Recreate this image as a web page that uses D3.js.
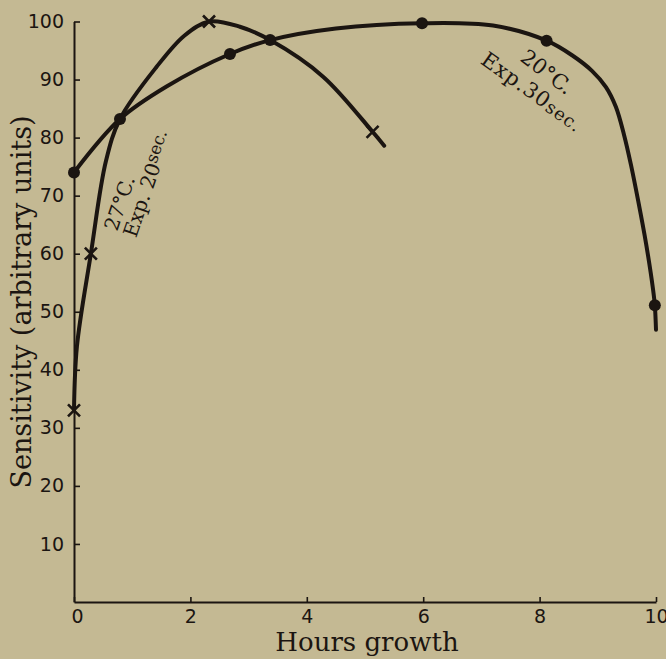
<!DOCTYPE html>
<html lang="en">
<head>
<meta charset="UTF-8">
<title>Sensitivity vs hours growth</title>
<script src="https://d3js.org/d3.v7.min.js"></script>
<style>
  body { margin: 0; background: #c4b993; }
  svg { display: block; }
</style>
</head>
<body>
<svg id="chart" width="666" height="659"></svg>
<script>
// 27°C, exp. 20 sec (crosses)
var hours27 = [0, 0.29, 2.32, 5.13];
var sens27 = [33, 60, 100, 81];
// points read along the drawn 27°C curve
var traceHours27 = [0, 0.05, 0.29, 0.55, 0.79, 1.42, 1.9, 2.32, 2.85, 3.37, 4.28, 5.13, 5.33];
var traceSens27 = [33, 44, 60, 76, 83.2, 92.2, 97.6, 100, 99.1, 96.8, 90.5, 81, 78.6];

// 20°C, exp. 30 sec (dots)
var hours20 = [0, 0.79, 2.68, 3.37, 5.98, 8.12, 9.98];
var sens20 = [74, 83.2, 94.4, 96.8, 99.7, 96.7, 51.1];
// points read along the drawn 20°C curve
var traceHours20 = [0, 0.79, 1.59, 2.68, 3.37, 4.5, 5.98, 7.2, 8.12, 8.57, 8.9, 9.14, 9.31, 9.45, 9.57, 9.69, 9.83, 9.95, 9.98, 10.0];
var traceSens20 = [74, 83.2, 88.8, 94.4, 96.8, 98.8, 99.7, 99.3, 96.7, 94.1, 91.5, 88.7, 85.3, 80.5, 75.3, 69.3, 61.7, 53.8, 51.1, 46.9];

var xTicks = [0, 2, 4, 6, 8, 10];
var yTicks = [10, 20, 30, 40, 50, 60, 70, 80, 90, 100];

var ink = "#1b1511";
var svg = d3.select("#chart");

svg.append("rect")
    .attr("width", 666).attr("height", 659)
    .attr("fill", "#c4b993");

var x = d3.scaleLinear().domain([0, 10]).range([74, 656]);
var y = d3.scaleLinear().domain([0, 100]).range([602, 21.5]);

// axes
var xAxis = d3.axisBottom(x)
    .tickValues(xTicks)
    .tickSizeInner(-5)
    .tickSizeOuter(0)
    .tickPadding(8)
    .tickFormat(d3.format("d"));

var yAxis = d3.axisLeft(y)
    .tickValues(yTicks)
    .tickSizeInner(-6)
    .tickSizeOuter(0)
    .tickPadding(10)
    .tickFormat(d3.format("d"));

var gx = svg.append("g").attr("transform", "translate(0," + y(0) + ")").call(xAxis);
var gy = svg.append("g").attr("transform", "translate(" + x(0) + ",0)").call(yAxis);

[gx, gy].forEach(function (g) {
    g.select(".domain").attr("stroke", ink).attr("stroke-width", 2);
    g.selectAll(".tick line").attr("stroke", ink).attr("stroke-width", 1.6);
    g.selectAll(".tick text")
        .attr("fill", ink)
        .attr("font-family", "DejaVu Sans")
        .attr("font-size", 19);
});
gx.selectAll(".tick text").filter(function (d) { return d === 0; }).attr("dx", 3);

// axis titles
svg.append("text")
    .attr("x", 367).attr("y", 651)
    .attr("text-anchor", "middle")
    .attr("font-family", "DejaVu Serif")
    .attr("font-size", 26)
    .attr("fill", ink)
    .text("Hours growth");

svg.append("text")
    .attr("transform", "translate(31,302) rotate(-90)")
    .attr("text-anchor", "middle")
    .attr("font-family", "DejaVu Serif")
    .attr("font-size", 27)
    .attr("fill", ink)
    .text("Sensitivity (arbitrary units)");

// curves
var line = d3.line()
    .x(function (d) { return x(d[0]); })
    .y(function (d) { return y(d[1]); })
    .curve(d3.curveCatmullRom.alpha(0.5));

svg.append("path")
    .datum(d3.zip(traceHours27, traceSens27))
    .attr("d", line)
    .attr("fill", "none")
    .attr("stroke", ink)
    .attr("stroke-width", 4)
    .attr("stroke-linecap", "round");

svg.append("path")
    .datum(d3.zip(traceHours20, traceSens20))
    .attr("d", line)
    .attr("fill", "none")
    .attr("stroke", ink)
    .attr("stroke-width", 4)
    .attr("stroke-linecap", "round");

// markers
svg.selectAll(".dot")
    .data(d3.zip(hours20, sens20))
    .enter().append("circle")
    .attr("class", "dot")
    .attr("cx", function (d) { return x(d[0]); })
    .attr("cy", function (d) { return y(d[1]); })
    .attr("r", 6)
    .attr("fill", ink);

svg.selectAll(".cross")
    .data(d3.zip(hours27, sens27))
    .enter().append("path")
    .attr("class", "cross")
    .attr("transform", function (d) { return "translate(" + x(d[0]) + "," + y(d[1]) + ")"; })
    .attr("d", "M-6,-6L6,6M-6,6L6,-6")
    .attr("stroke", ink)
    .attr("stroke-width", 2.6)
    .attr("fill", "none");

// annotations
var a1 = svg.append("g").attr("transform", "translate(117,232) rotate(-71)")
    .attr("font-family", "DejaVu Serif").attr("fill", ink);
a1.append("text").attr("font-size", 20).text("27°C.");
a1.append("text").attr("y", 20).attr("font-size", 20)
    .text("Exp. 20")
    .append("tspan").attr("font-size", 17).attr("dy", -5).text("sec.");

var a2 = svg.append("g").attr("transform", "translate(519,60) rotate(37)")
    .attr("font-family", "DejaVu Serif").attr("fill", ink);
a2.append("text").attr("font-size", 21).text("20°C.");
a2.append("text").attr("x", -30).attr("y", 26).attr("font-size", 21)
    .attr("letter-spacing", 1)
    .attr("transform", "rotate(-1.5,-30,26)")
    .text("Exp.30")
    .append("tspan").attr("font-size", 18).attr("dy", 1).text("sec.");
</script>
</body>
</html>
